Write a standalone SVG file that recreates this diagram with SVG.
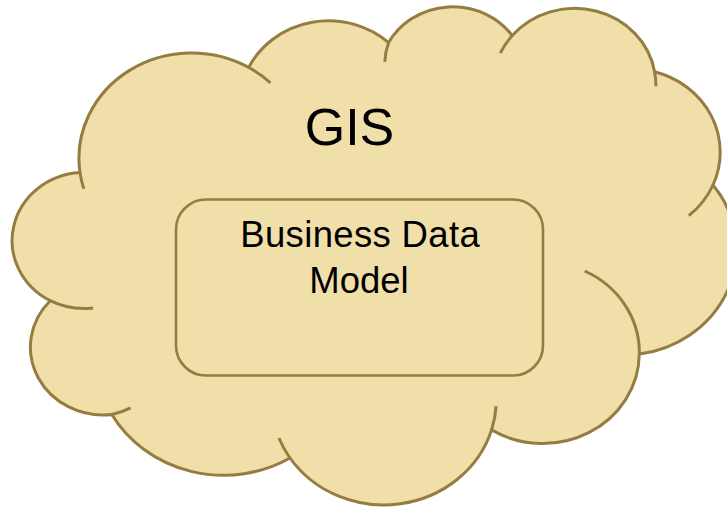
<svg xmlns="http://www.w3.org/2000/svg" width="727" height="509" viewBox="0 0 727 509">
<style>
.shape{fill:#F1DFAA;stroke:#957C40;stroke-width:3;stroke-linejoin:round}
.tick{fill:none;stroke:#957C40;stroke-width:3}
.lbl{font-family:"Liberation Sans",Arial,sans-serif;fill:#000;text-anchor:middle}
</style>
<rect width="727" height="509" fill="#FFFFFF"/>
<g id="gis-cloud">
<path class="shape" d="M80,172.6 A112.7,105.4 0 0 1 248.7,67.4 A89,83.3 0 0 1 388.6,42.6 A72.9,68.2 0 0 1 512.3,35.6 A81.1,75.6 0 0 1 654.6,71.7 A89,83.4 0 0 1 713,185 A113.1,105.7 0 0 1 639.3,354.1 A96.6,90.2 0 0 1 491.6,429.9 A112.7,105.6 0 0 1 290,458 A128.9,120.9 0 0 1 111.8,414.5 A72.8,67.8 0 0 1 50.2,300.7 A72.5,68.2 0 0 1 80,172.6 Z"/>
<path class="tick" d="M248.7,67.4 A112.7,105.4 0 0 1 270.4,82.9 M384.8,61.9 A72.9,68.2 0 0 1 388.6,42.6 M500.3,53.1 A81.1,75.6 0 0 1 512.3,35.6 M654.6,71.7 A81.1,75.6 0 0 1 655.9,86.2 M713,185 A89,83.4 0 0 1 688.8,215.7 M584.7,271 A96.6,90.2 0 0 1 639.3,354.1 M496.1,406.2 A112.7,105.6 0 0 1 491.6,429.9 M290,458 A112.7,105.6 0 0 1 278.9,438 M130.6,407.9 A72.8,67.8 0 0 1 111.8,414.5 M93.2,307.9 A72.5,68.2 0 0 1 50.2,300.7 M83.8,188.8 A112.7,105.4 0 0 1 80,172.6"/>
<text class="lbl" x="349.5" y="145" font-size="52">GIS</text>
</g>
<g id="business-data-model">
<rect class="shape" x="176" y="199.5" width="367" height="176" rx="30" ry="30" style="stroke-width:2.6"/>
<text class="lbl" x="360" y="247" font-size="36.5" textLength="239.5" lengthAdjust="spacing">Business Data</text>
<text class="lbl" x="359" y="292.5" font-size="36.5">Model</text>
</g>
<g id="connectors"/>
</svg>
